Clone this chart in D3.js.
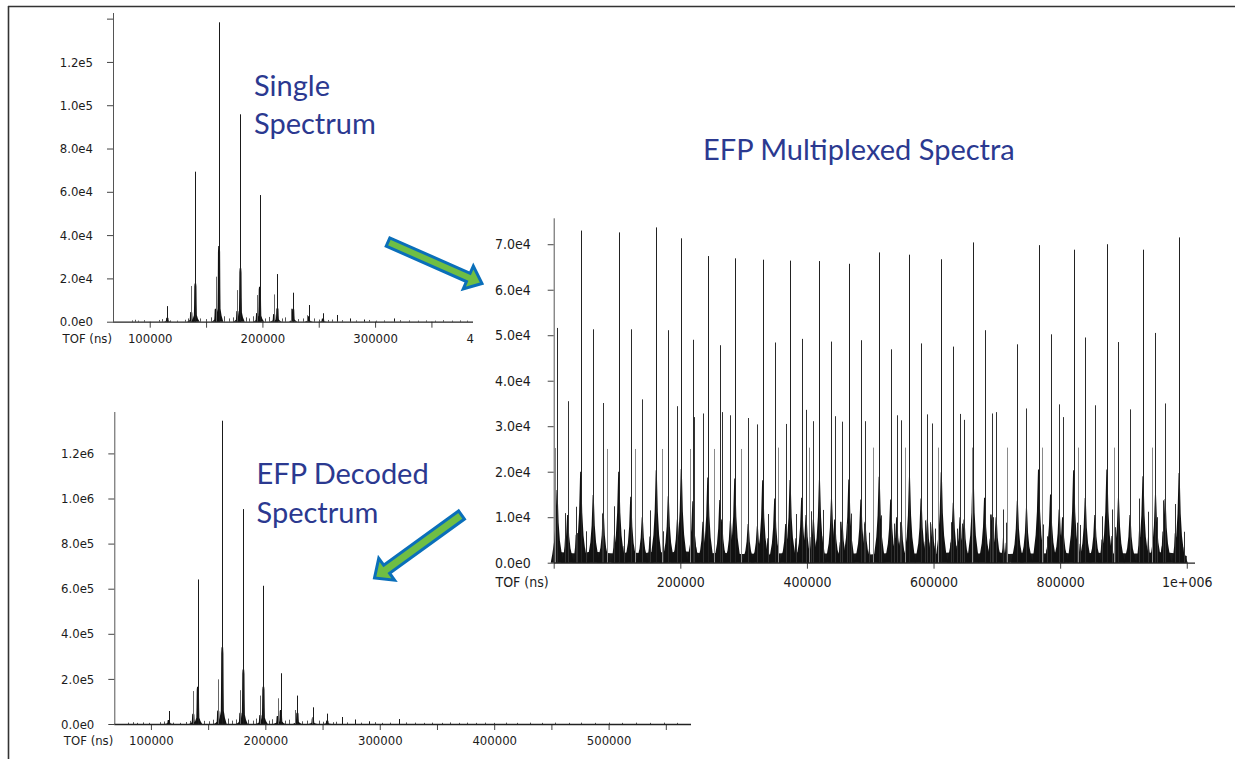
<!DOCTYPE html>
<html><head><meta charset="utf-8">
<script src="https://cdn.jsdelivr.net/npm/d3@7"></script>
<style>
body{margin:0;background:#fff;}
svg{display:block;}
.tk text, text.tk{font-family:"DejaVu Sans Condensed","DejaVu Sans",sans-serif;font-stretch:condensed;fill:#1c1c1c;}
.ttl{font-family:Lato,"Open Sans",sans-serif;fill:#2b3990;font-size:29px;}
</style></head><body>
<svg id="c" width="1235" height="759"></svg>
<script>
// ---------------- DATA ----------------
// Single spectrum (top-left): [TOF ns, intensity]
const singleSpikes = [[115600,7200],[140500,69300],[161500,138300],[180500,95800],[197700,58500],[213300,22000],[227300,13400],[241500,7700],[253700,3900],[266300,3100],[277900,1500],[290000,1000],[316400,1500]];
const singleSatellites = [[136700,16500],[158600,20800],[177800,14600],[195300,12300],[210400,12600],[225200,6000],[239700,3000]];
const singleClusters = [[140500,17700],[161500,35000],[180500,24700],[197700,16200],[213300,6200],[227300,6000],[136800,4500],[158600,6000],[177800,5000],[195300,4000],[210400,3500],[241000,2500],[115600,1800],[253700,1500]];
const singleNoise = [[84000,600],[87000,900],[90000,500],[95000,700],[108000,800],[111000,1200],[118000,600],[124000,500],[131000,900],[134000,1500],[145000,1500],[150000,1200],[154000,2000],[166000,2500],[170000,1500],[174000,2000],[185000,2000],[188000,1500],[192000,2500],[202000,1500],[206000,2200],[217000,1500],[220000,2000],[232000,1200],[236000,1500],[246000,1500],[250000,1000],[258000,800],[262000,1000],[271000,700],[283000,600],[295000,800],[301000,500],[308000,600],[322000,700],[330000,600],[338000,500],[345000,600],[353000,500],[360000,700],[368000,500],[375000,600],[382000,500]];
const singleXTicks = [100000,150000,200000,250000,300000,350000,400000];
const singleXTickLabels = ["100000","","200000","","300000","",""];
const singleCutLabel = "4"; // the visible part of the clipped "400000" label
const singleYTicks = [0,20000,40000,60000,80000,100000,120000,140000];
const singleYTickLabels = ["0.0e0","2.0e4","4.0e4","6.0e4","8.0e4","1.0e5","1.2e5",""];

// EFP decoded spectrum (bottom-left)
const decodedSpikes = [[115600,57600],[141000,641000],[162400,1345000],[180800,953000],[198300,613000],[213500,225000],[228000,126000],[242000,74000],[254100,46000],[266600,31000],[278300,20000],[290500,12000],[316600,22000]];
const decodedSatellites = [[136700,146000],[158600,198000],[178100,150000],[195600,126000],[210800,114000],[226000,62000],[240800,30000]];
const decodedClusters = [[141000,165000],[162400,340000],[180800,242000],[198300,165000],[213500,62000],[228000,50000],[137000,45000],[158800,60000],[178200,50000],[195600,40000],[210800,35000],[241500,25000],[115600,18000],[254100,15000]];
const decodedNoise = [[80000,6000],[84000,8000],[88000,5000],[93000,7000],[98000,5000],[108000,8000],[111000,11000],[119000,6000],[125000,5000],[131000,9000],[134000,14000],[146000,14000],[151000,12000],[154000,19000],[167000,24000],[171000,15000],[174000,20000],[185000,19000],[189000,15000],[192000,24000],[203000,15000],[206000,21000],[217000,15000],[221000,19000],[232000,12000],[236000,15000],[247000,15000],[250000,10000],[259000,8000],[262000,10000],[271000,7000],[284000,6000],[296000,8000],[302000,5000],[309000,6000],[323000,7000],[331000,6000],[339000,5000],[346000,6000],[354000,5000],[361000,7000],[369000,5000],[376000,6000],[384000,5000],[392000,6000],[400000,5000],[410000,6000],[420000,5000],[431000,6000],[442000,5000],[453000,6000],[465000,5000],[476000,6000],[488000,5000],[500000,6000],[512000,5000],[524000,6000],[536000,5000],[548000,6000],[560000,5000]];
const decodedXTicks = [100000,150000,200000,250000,300000,350000,400000,450000,500000,550000];
const decodedXTickLabels = ["100000","","200000","","300000","","400000","","500000",""];
const decodedYTicks = [0,200000,400000,600000,800000,1000000,1200000];
const decodedYTickLabels = ["0.0e0","2.0e5","4.0e5","6.0e5","8.0e5","1.0e6","1.2e6"];

// EFP multiplexed spectra (right)
const muxTall = [[42600,73000],[102700,72600],[162000,73700],[201500,71300],[243400,67400],[286000,66900],[330100,66600],[373400,66400],[419800,66300],[466200,65700],[514100,68200],[562000,67700],[612200,66700],[662400,70400],[765800,69800],[821300,68800],[873800,70000],[930800,68800],[987900,71500]];
const muxMid = [[5300,51600],[62400,51300],[121700,51300],[181000,51100],[219800,49000],[262400,47800],[349100,48400],[391700,49200],[438800,48600],[485200,48900],[532300,46900],[580300,48200],[631200,47500],[680600,51100],[732400,48000],[784800,50200],[839600,49500],[892100,48500],[950600,50500]];
const muxLow = [[22000,35500],[78300,35100],[139900,35900],[195400,34400],[221300,32000],[235800,32800],[265400,33100],[279100,32400],[307200,31800],[321700,30400],[366500,30500],[398600,33600],[410200,31100],[443900,32200],[455500,31000],[491800,31100],[541800,32400],[549100,31300],[590200,32600],[598100,30600],[641900,32700],[648200,31400],[692100,32800],[698900,33100],[746800,33900],[798500,34800],[803800,32000],[854800,34600],[910300,33700],[965800,35000]];
const muxFaint = [[1500,25200],[84700,25000],[128000,25000],[171600,25000],[214800,25000],[252700,25000],[295400,25000],[354900,25300],[403300,25300],[503900,25300],[555400,25300],[607600,25300],[660300,25300],[716100,25300],[771400,25300],[828800,25300],[885200,25300],[944700,25300]];
const muxMinor = [[18300,10900],[35200,12300],[37300,6500],[51500,6900],[76800,10800],[95700,12400],[111000,7300],[151700,11500],[172700,6900],[338000,10700],[382300,10700],[406500,11300],[425400,11600],[452300,9000],[463000,8600],[469700,10800],[490700,8600],[498600,6600],[517100,10400],[538100,8600],[547100,8900],[586600,9300],[594500,8900],[602400,7500],[627200,8900],[636700,7500],[644600,8600],[689300,10600],[694500,10000],[710300,11700],[714500,8800],[772500,8400],[778900,5800],[826000,8800],[831300,8300],[865700,10200],[881500,11700],[886800,7800],[925000,14100],[939200,11200],[952500,10000],[962100,13700],[981500,12900],[995700,6800]];
const muxClusters = [[42600,20000],[102700,20000],[162000,20300],[201500,20600],[243400,18700],[286000,18500],[330100,18100],[373400,18200],[419800,18300],[466200,18300],[514100,18900],[562000,18900],[612200,19900],[662400,20000],[765800,20500],[821300,20300],[873800,20500],[930800,19000],[987900,19700],
  [5300,16000],[62400,14900],[121700,14500],[181000,14600],[219800,13500],[262400,13800],[349100,14100],[391700,14300],[438800,14100],[485200,13900],[532300,13900],[580300,14100],[631200,13200],[680600,14300],[732400,13600],[784800,15000],[839600,14200],[892100,14300],[950600,15000],
  [22000,10500],[78300,11000],[139900,10000],[195400,9500],[221300,8500],[235800,9000],[265400,9500],[279100,9200],[307200,8500],[321700,8000],[366500,8500],[398600,10500],[410200,9500],[443900,9500],[455500,9000],[491800,9000],[541800,10000],[549100,9000],[590200,9500],[598100,8500],[641900,10000],[648200,9500],[692100,10600],[698900,10000],[746800,12000],[798500,11700],[803800,10000],[854800,10500],[910300,10500],[965800,14000]];
// low-level continuum under the multiplexed spectra, read every 20000 ns
const muxFloorTof = [0,20000,40000,60000,80000,100000,120000,140000,160000,180000,200000,220000,240000,260000,280000,300000,320000,340000,360000,380000,400000,420000,440000,460000,480000,500000,520000,540000,560000,580000,600000,620000,640000,660000,680000,700000,720000,740000,760000,780000,800000,820000,840000,860000,880000,900000,920000,940000,960000,980000,1000000];
const muxFloorVal = [2500,2200,2000,2400,2200,2000,2300,2100,2400,2200,2500,2300,2000,2200,2100,1900,2000,1800,2100,2200,2400,2100,2000,1900,2100,1800,2000,2200,2100,2000,1900,2200,2300,2000,2100,2300,1900,2200,2000,2100,2300,2000,2100,2200,2000,2100,2000,2200,2300,2100,1500];
const muxXTicks = [0,200000,400000,600000,800000,1000000];
const muxXTickLabels = ["","200000","400000","600000","800000","1e+006"];
const muxYTicks = [0,10000,20000,30000,40000,50000,60000,70000];
const muxYTickLabels = ["0.0e0","1.0e4","2.0e4","3.0e4","4.0e4","5.0e4","6.0e4","7.0e4"];

// ---------------- DRAWING ----------------
const svg = d3.select('#c');
svg.append('rect').attr('width',1235).attr('height',759).attr('fill','#fff');

function spikes(g, x, y, data, color, w){
  g.append('g').selectAll('line').data(data).join('line')
    .attr('x1', d => Math.round(x(d[0]))+0.5).attr('x2', d => Math.round(x(d[0]))+0.5)
    .attr('y1', y(0)).attr('y2', d => y(d[1]))
    .attr('stroke', color).attr('stroke-width', w||1);
}
// peak body profiles: [fraction of half-width, fraction of height]
const profileWide = [[-1,0],[-0.75,0.12],[-0.45,0.3],[-0.25,0.55],[-0.12,0.9],[-0.08,1],[0.08,1],[0.12,0.9],[0.25,0.55],[0.45,0.3],[0.75,0.12],[1,0]];
const profileBar = [[-1,0],[-0.6,0.08],[-0.35,0.17],[-0.3,0.45],[-0.25,0.92],[-0.18,1],[0.18,1],[0.25,0.92],[0.3,0.45],[0.35,0.17],[0.6,0.08],[1,0]];
function bodies(g, x, y, data, hw, color, prof){
  const area = d3.area().x(p => x(p[0])).y0(y(0)).y1(p => y(p[1]));
  g.append('g').selectAll('path').data(data).join('path')
    .attr('d', d => area(prof.map(q => [d[0]+q[0]*hw, d[1]*q[1]])))
    .attr('fill', color);
}
function axes(g, x, y, o){
  const x0 = x.range()[0];
  const ya = d3.axisLeft(y).tickValues(o.yTicks).tickSize(6).tickPadding(o.yPad)
    .tickFormat((d,i) => o.yLabels[i]);
  const gy = g.append('g').attr('class','tk').attr('transform',`translate(${x0},0)`).call(ya);
  gy.select('.domain').remove();
  gy.selectAll('line').attr('stroke','#444');
  gy.selectAll('text').style('font-size', o.fs+'px');
  const xa = d3.axisBottom(x).tickValues(o.xTicks).tickSize(6).tickPadding(o.xPad)
    .tickFormat((d,i) => o.xLabels[i]);
  const gx = g.append('g').attr('class','tk').attr('transform',`translate(0,${y(0)})`).call(xa);
  gx.select('.domain').remove();
  gx.selectAll('line').attr('stroke','#444');
  gx.selectAll('text').style('font-size', o.fs+'px');
  g.append('line').attr('x1',x0+0.5).attr('x2',x0+0.5).attr('y1',y.range()[0]).attr('y2',y.range()[1]).attr('stroke','#555');
  g.append('line').attr('x1',x0).attr('x2',x.range()[1]).attr('y1',y(0)+0.5).attr('y2',y(0)+0.5).attr('stroke','#222').attr('stroke-width',1.3);
  g.append('text').attr('class','tk')
    .attr('x', x0 - o.tofGap).attr('y', y(0) + o.tofDy).attr('text-anchor','end')
    .style('font-size', o.fs+'px').text('TOF (ns)');
}

// ---- top-left: single spectrum
svg.append('clipPath').attr('id','clipTL').append('rect').attr('x',0).attr('y',0).attr('width',475).attr('height',400);
const gS = svg.append('g').attr('clip-path','url(#clipTL)');
const xS = d3.scaleLinear().domain([67400,386900]).range([113,473]);
const yS = d3.scaleLinear().domain([0,142600]).range([321.7,13]);
spikes(gS, xS, yS, singleNoise, '#555');
bodies(gS, xS, yS, singleClusters, 3800, '#111', profileBar);
spikes(gS, xS, yS, singleSatellites, '#666');
spikes(gS, xS, yS, singleSpikes, '#1a1a1a');
axes(gS, xS, yS, {yTicks:singleYTicks, yLabels:singleYTickLabels, xTicks:singleXTicks, xLabels:singleXTickLabels, yPad:14, xPad:6, fs:13, tofGap:1, tofDy:21.3});
svg.append('text').attr('class','tk').attr('x',466.5).attr('y',yS(0)+21.3).style('font-size','13px').text(singleCutLabel);

// ---- bottom-left: decoded
const gD = svg.append('g');
const xD = d3.scaleLinear().domain([68000,572000]).range([114.3,691]);
const yD = d3.scaleLinear().domain([0,1383600]).range([724,412]);
spikes(gD, xD, yD, decodedNoise, '#555');
bodies(gD, xD, yD, decodedClusters, 3800, '#111', profileBar);
spikes(gD, xD, yD, decodedSatellites, '#666');
spikes(gD, xD, yD, decodedSpikes, '#1a1a1a');
axes(gD, xD, yD, {yTicks:decodedYTicks, yLabels:decodedYTickLabels, xTicks:decodedXTicks, xLabels:decodedXTickLabels, yPad:14, xPad:6, fs:13, tofGap:1, tofDy:21.3});

// ---- right: multiplexed
const gM = svg.append('g');
const xM = d3.scaleLinear().domain([0,1013000]).range([553.7,1195]);
const yM = d3.scaleLinear().domain([0,75700]).range([562.7,218.3]);
gM.append('path').datum(d3.zip(muxFloorTof, muxFloorVal))
  .attr('d', d3.area().x(d => xM(d[0])).y0(yM(0)).y1(d => yM(d[1])).curve(d3.curveMonotoneX))
  .attr('fill','#1a1a1a');
bodies(gM, xM, yM, muxMinor.map(d => [d[0], d[1]*0.5]), 6000, '#161616', profileWide);
bodies(gM, xM, yM, muxClusters, 10000, '#111', profileWide);
spikes(gM, xM, yM, muxMinor, '#333');
spikes(gM, xM, yM, muxFaint, '#8a8a8a');
spikes(gM, xM, yM, muxLow, '#333');
spikes(gM, xM, yM, muxMid, '#2a2a2a');
spikes(gM, xM, yM, muxTall, '#222');
axes(gM, xM, yM, {yTicks:muxYTicks, yLabels:muxYTickLabels, xTicks:muxXTicks, xLabels:muxXTickLabels, yPad:17, xPad:8, fs:14, tofGap:5, tofDy:24.3});

// ---- titles
svg.append('text').attr('class','ttl').attr('x',254).attr('y',95.5).text('Single');
svg.append('text').attr('class','ttl').attr('x',254).attr('y',134).text('Spectrum');
svg.append('text').attr('class','ttl').attr('x',703).attr('y',160).text('EFP Multiplexed Spectra');
svg.append('text').attr('class','ttl').attr('x',256.5).attr('y',483.5).text('EFP Decoded');
svg.append('text').attr('class','ttl').attr('x',256.5).attr('y',522.5).text('Spectrum');

// ---- arrows
function arrow(tail, tip, shaft, headW, headL){
  const dx = tip[0]-tail[0], dy = tip[1]-tail[1], L = Math.hypot(dx,dy);
  const ux = dx/L, uy = dy/L, nx = -uy, ny = ux;
  const bx = tip[0]-ux*headL, by = tip[1]-uy*headL;
  const p = (x,y,s) => [x+nx*s, y+ny*s];
  const pts = [p(tail[0],tail[1],shaft/2), p(bx,by,shaft/2), p(bx,by,headW/2), tip, p(bx,by,-headW/2), p(bx,by,-shaft/2), p(tail[0],tail[1],-shaft/2)];
  svg.append('path').attr('d', d3.line()(pts)+'Z').attr('fill','#6fbe44').attr('stroke','#0a6fba').attr('stroke-width',3).attr('stroke-linejoin','miter');
}
arrow([388,242],[482,283.5],9,25,15);
arrow([461.5,515],[374.5,578],10,27,15);

// ---- frame
svg.append('line').attr('x1',8.5).attr('x2',8.5).attr('y1',6).attr('y2',759).attr('stroke','#333').attr('stroke-width',1.6);
svg.append('line').attr('x1',8).attr('x2',1235).attr('y1',6.5).attr('y2',6.5).attr('stroke','#333').attr('stroke-width',1.6);
</script>
</body></html>
